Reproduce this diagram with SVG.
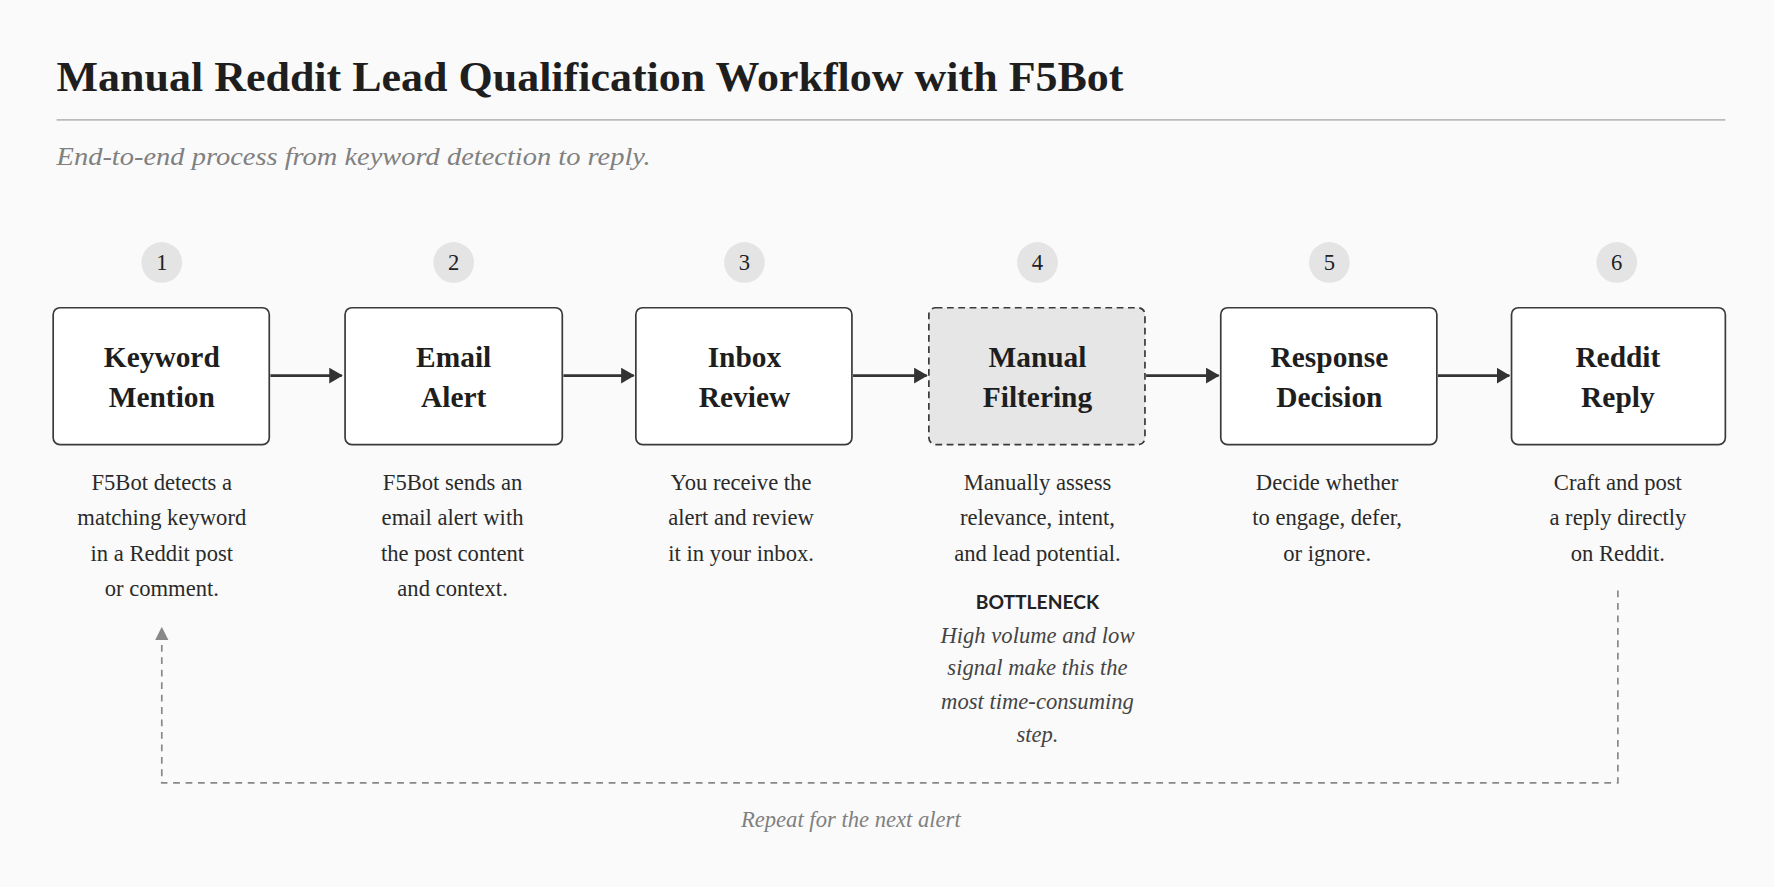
<svg xmlns="http://www.w3.org/2000/svg" width="1774" height="887" viewBox="0 0 1774 887">
<style>
.t{font-family:"Liberation Serif","DejaVu Serif",serif;}
.title{font-size:37px;font-weight:bold;fill:#1e1e1e}
.sub{font-size:23px;font-style:italic;fill:#808080}
.num{font-size:20px;fill:#222;text-anchor:middle}
.bt{font-size:26px;font-weight:bold;fill:#1e1e1e;text-anchor:middle}
.d{font-size:20px;fill:#2a2a2a;text-anchor:middle}
.it{font-size:20px;font-style:italic;fill:#444;text-anchor:middle}
.box{fill:#fff;stroke:#3a3a3a;stroke-width:1.5}
.circ{fill:#e4e4e4}
.ar{stroke:#333;stroke-width:2.5;fill:none}
</style>
<defs>
<marker id="ah" markerWidth="12" markerHeight="14" refX="11" refY="7" orient="auto" markerUnits="userSpaceOnUse"><path d="M0,0 L12,7 L0,14 Z" fill="#333"/></marker>
<marker id="ahg" markerWidth="12" markerHeight="12" refX="10" refY="6" orient="auto" markerUnits="userSpaceOnUse"><path d="M0,0 L12,6 L0,12 Z" fill="#888"/></marker>
</defs>
<rect width="1774" height="887" fill="#fafafa"/>
<g transform="scale(1.13138)">
<text class="t title" x="50" y="80" textLength="943" lengthAdjust="spacingAndGlyphs">Manual Reddit Lead Qualification Workflow with F5Bot</text>
<line x1="50" y1="106" x2="1525" y2="106" stroke="#bbb" stroke-width="1.5"/>
<text class="t sub" x="50" y="146" textLength="525" lengthAdjust="spacingAndGlyphs">End-to-end process from keyword detection to reply.</text>
<g id="connectors">
<line class="ar" x1="239" y1="332" x2="302" y2="332" marker-end="url(#ah)"/>
<line class="ar" x1="498" y1="332" x2="560" y2="332" marker-end="url(#ah)"/>
<line class="ar" x1="754" y1="332" x2="819" y2="332" marker-end="url(#ah)"/>
<line class="ar" x1="1013" y1="332" x2="1077" y2="332" marker-end="url(#ah)"/>
<line class="ar" x1="1271" y1="332" x2="1334" y2="332" marker-end="url(#ah)"/>
<polyline points="1430,522 1430,692 143,692 143,556" fill="none" stroke="#888" stroke-width="1.5" stroke-dasharray="6,5" marker-end="url(#ahg)"/>
<text class="t it" x="752" y="731" style="fill:#808080">Repeat for the next alert</text>
</g>
<g id="n1"><circle class="circ" cx="143" cy="232" r="18"/><text class="t num" x="143" y="239">1</text>
<rect class="box" x="47" y="272" width="191" height="121" rx="6"/>
<text class="t bt" x="143" y="324">Keyword</text><text class="t bt" x="143" y="360">Mention</text>
<text class="t d" x="143" y="433">F5Bot detects a</text><text class="t d" x="143" y="464">matching keyword</text><text class="t d" x="143" y="496">in a Reddit post</text><text class="t d" x="143" y="527">or comment.</text></g>
<g id="n2"><circle class="circ" cx="401" cy="232" r="18"/><text class="t num" x="401" y="239">2</text>
<rect class="box" x="305" y="272" width="192" height="121" rx="6"/>
<text class="t bt" x="401" y="324">Email</text><text class="t bt" x="401" y="360">Alert</text>
<text class="t d" x="400" y="433">F5Bot sends an</text><text class="t d" x="400" y="464">email alert with</text><text class="t d" x="400" y="496">the post content</text><text class="t d" x="400" y="527">and context.</text></g>
<g id="n3"><circle class="circ" cx="658" cy="232" r="18"/><text class="t num" x="658" y="239">3</text>
<rect class="box" x="562" y="272" width="191" height="121" rx="6"/>
<text class="t bt" x="658" y="324">Inbox</text><text class="t bt" x="658" y="360">Review</text>
<text class="t d" x="655" y="433">You receive the</text><text class="t d" x="655" y="464">alert and review</text><text class="t d" x="655" y="496">it in your inbox.</text></g>
<g id="n4"><circle class="circ" cx="917" cy="232" r="18"/><text class="t num" x="917" y="239">4</text>
<rect x="821" y="272" width="191" height="121" rx="6" fill="#e6e6e6" stroke="#3a3a3a" stroke-width="1.5" stroke-dasharray="6,4"/>
<text class="t bt" x="917" y="324">Manual</text><text class="t bt" x="917" y="360">Filtering</text>
<text class="t d" x="917" y="433">Manually assess</text><text class="t d" x="917" y="464">relevance, intent,</text><text class="t d" x="917" y="496">and lead potential.</text>
<text x="917" y="538" text-anchor="middle" font-family="Lato,'Liberation Sans',sans-serif" font-weight="bold" font-size="17" fill="#222">BOTTLENECK</text>
<text class="t it" x="917" y="568">High volume and low</text><text class="t it" x="917" y="597">signal make this the</text><text class="t it" x="917" y="627">most time-consuming</text><text class="t it" x="917" y="656">step.</text></g>
<g id="n5"><circle class="circ" cx="1175" cy="232" r="18"/><text class="t num" x="1175" y="239">5</text>
<rect class="box" x="1079" y="272" width="191" height="121" rx="6"/>
<text class="t bt" x="1175" y="324">Response</text><text class="t bt" x="1175" y="360">Decision</text>
<text class="t d" x="1173" y="433">Decide whether</text><text class="t d" x="1173" y="464">to engage, defer,</text><text class="t d" x="1173" y="496">or ignore.</text></g>
<g id="n6"><circle class="circ" cx="1429" cy="232" r="18"/><text class="t num" x="1429" y="239">6</text>
<rect class="box" x="1336" y="272" width="189" height="121" rx="6"/>
<text class="t bt" x="1430" y="324">Reddit</text><text class="t bt" x="1430" y="360">Reply</text>
<text class="t d" x="1430" y="433">Craft and post</text><text class="t d" x="1430" y="464">a reply directly</text><text class="t d" x="1430" y="496">on Reddit.</text></g>
</g>
</svg>
